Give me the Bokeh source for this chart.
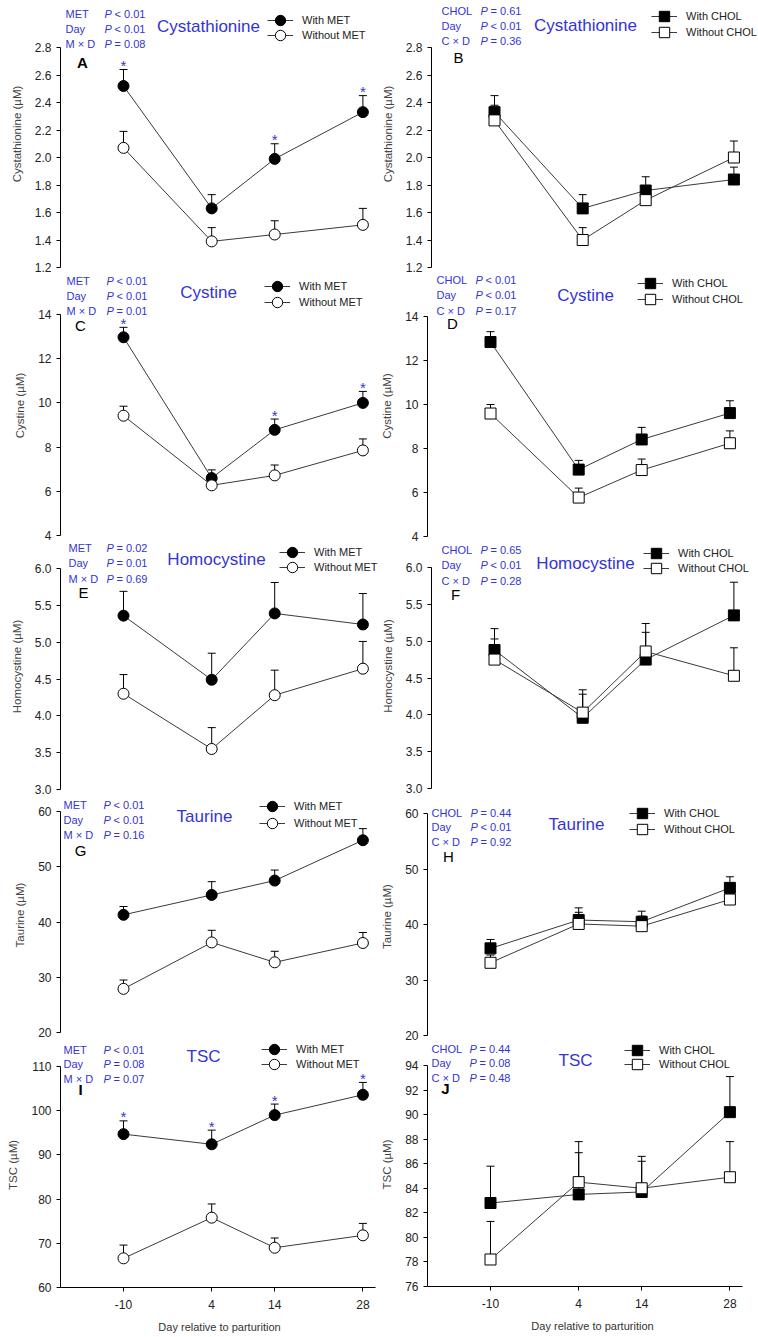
from bokeh.plotting import figure
from bokeh.models import (Range1d, FixedTicker, PrintfTickFormatter, Label,
                          Legend, LegendItem, ColumnDataSource)
from bokeh.layouts import column, row
from bokeh.embed import file_html
from bokeh.resources import INLINE
from bokeh.core.properties import value

FONT = "Liberation Sans"
BLUE = "#3434d6"

# ---------------- data ----------------
days = [-10, 4, 14, 28]
day_tick_labels = ["-10", "4", "14", "28"]

met_names = ["With MET", "Without MET"]
chol_names = ["With CHOL", "Without CHOL"]

# Cystathionine
cysta_met_with = [2.52, 1.63, 1.99, 2.33]
cysta_met_with_se = [0.12, 0.10, 0.11, 0.12]
cysta_met_without = [2.07, 1.39, 1.44, 1.51]
cysta_met_without_se = [0.12, 0.10, 0.10, 0.12]
cysta_met_sig = [True, False, True, True]
cysta_met_p = [("MET", "< 0.01"), ("Day", "< 0.01"), ("M \u00d7 D", "= 0.08")]

cysta_chol_with = [2.33, 1.63, 1.76, 1.84]
cysta_chol_with_se = [0.12, 0.10, 0.10, 0.09]
cysta_chol_without = [2.27, 1.40, 1.69, 2.00]
cysta_chol_without_se = [0.11, 0.09, 0.09, 0.12]
cysta_chol_p = [("CHOL", "= 0.61"), ("Day", "< 0.01"), ("C \u00d7 D", "= 0.36")]

cysta_ticks = [1.2, 1.4, 1.6, 1.8, 2.0, 2.2, 2.4, 2.6, 2.8]

# Cystine
cystine_met_with = [12.97, 6.60, 8.78, 10.0]
cystine_met_with_se = [0.45, 0.37, 0.49, 0.52]
cystine_met_without = [9.42, 6.27, 6.72, 7.85]
cystine_met_without_se = [0.43, 0.20, 0.47, 0.52]
cystine_met_sig = [True, False, True, True]
cystine_met_p = [("MET", "< 0.01"), ("Day", "< 0.01"), ("M \u00d7 D", "= 0.01")]

cystine_chol_with = [12.84, 7.04, 8.41, 9.61]
cystine_chol_with_se = [0.47, 0.42, 0.55, 0.56]
cystine_chol_without = [9.59, 5.77, 7.02, 8.24]
cystine_chol_without_se = [0.41, 0.43, 0.50, 0.56]
cystine_chol_p = [("CHOL", "< 0.01"), ("Day", "< 0.01"), ("C \u00d7 D", "= 0.17")]

cystine_ticks = [4, 6, 8, 10, 12, 14]

# Homocystine
homo_met_with = [5.36, 4.49, 5.39, 5.24]
homo_met_with_se = [0.33, 0.36, 0.42, 0.42]
homo_met_without = [4.30, 3.55, 4.28, 4.64]
homo_met_without_se = [0.26, 0.29, 0.34, 0.37]
homo_met_sig = [False, False, False, False]
homo_met_p = [("MET", "= 0.02"), ("Day", "= 0.01"), ("M \u00d7 D", "= 0.69")]

homo_chol_with = [4.88, 3.96, 4.75, 5.35]
homo_chol_with_se = [0.29, 0.32, 0.37, 0.45]
homo_chol_without = [4.75, 4.03, 4.86, 4.53]
homo_chol_without_se = [0.28, 0.31, 0.38, 0.38]
homo_chol_p = [("CHOL", "= 0.65"), ("Day", "< 0.01"), ("C \u00d7 D", "= 0.28")]

homo_ticks = [3.0, 3.5, 4.0, 4.5, 5.0, 5.5, 6.0]

# Taurine
tau_met_with = [41.3, 44.9, 47.5, 54.8]
tau_met_with_se = [1.5, 2.4, 1.9, 2.1]
tau_met_without = [27.9, 36.3, 32.7, 36.2]
tau_met_without_se = [1.6, 2.2, 2.0, 1.9]
tau_met_sig = [False, False, False, False]
tau_met_p = [("MET", "< 0.01"), ("Day", "< 0.01"), ("M \u00d7 D", "= 0.16")]

tau_chol_with = [35.7, 40.8, 40.5, 46.6]
tau_chol_with_se = [1.6, 2.2, 1.9, 2.0]
tau_chol_without = [33.1, 40.1, 39.7, 44.5]
tau_chol_without_se = [1.4, 2.1, 1.8, 1.5]
tau_chol_p = [("CHOL", "= 0.44"), ("Day", "< 0.01"), ("C \u00d7 D", "= 0.92")]

tau_ticks = [20, 30, 40, 50, 60]

# TSC
tsc_met_with = [94.7, 92.4, 99.0, 103.6]
tsc_met_with_se = [3.0, 3.2, 2.5, 2.8]
tsc_met_without = [66.6, 75.8, 69.0, 71.8]
tsc_met_without_se = [3.0, 3.1, 2.2, 2.7]
tsc_met_sig = [True, True, True, True]
tsc_met_p = [("MET", "< 0.01"), ("Day", "= 0.08"), ("M \u00d7 D", "= 0.07")]
tsc_met_ticks = [60, 70, 80, 90, 100, 110]

tsc_chol_with = [82.8, 83.5, 83.7, 90.2]
tsc_chol_with_se = [3.0, 3.4, 2.5, 2.9]
tsc_chol_without = [78.2, 84.5, 84.0, 84.9]
tsc_chol_without_se = [3.1, 3.3, 2.6, 2.9]
tsc_chol_p = [("CHOL", "= 0.44"), ("Day", "= 0.08"), ("C \u00d7 D", "= 0.48")]
tsc_chol_ticks = [76, 78, 80, 82, 84, 86, 88, 90, 92, 94]

no_sig = [False, False, False, False]

# ---------------- layout constants (page pixels) ----------------
ROW_TOPS = [0, 275, 543, 797, 1042]
LAST_BOTTOM = 1333
FRAME_LEFT = [60, 426]
FRAME_W = [318, 330]
BORDER_L = [60, 48]
BORDER_R = [0, 2]
PPX = 6.3            # pixels per day
X_START = -20
X_AXIS_BOUNDS = (-20, 30)

LAYOUT = {
    "A": dict(col=0, row=0, top_px=47, bot_px=267, tx=(65, 104, 114), ty=13, sp=15, title=(208, 26), letter=(82, 62), lg=(280, 20, 35)),
    "B": dict(col=1, row=0, top_px=47, bot_px=267, tx=(436, 475, 485), ty=10, sp=15, title=(580, 25), letter=(453, 57), lg=(659, 16, 32)),
    "C": dict(col=0, row=1, top_px=314, bot_px=535, tx=(66, 106, 116), ty=280, sp=15, title=(208, 292), letter=(80, 325), lg=(277, 286, 302)),
    "D": dict(col=1, row=1, top_px=316, bot_px=536, tx=(435, 474, 484), ty=279, sp=15.5, title=(584, 295), letter=(451, 323), lg=(649, 283, 299)),
    "E": dict(col=0, row=2, top_px=568, bot_px=789, tx=(68, 106, 116), ty=547, sp=15.5, title=(216, 559), letter=(83, 592), lg=(292, 552, 567)),
    "F": dict(col=1, row=2, top_px=567, bot_px=788, tx=(436, 475, 485), ty=549, sp=15.5, title=(580, 563), letter=(450, 594), lg=(651, 553, 568)),
    "G": dict(col=0, row=3, top_px=811, bot_px=1032, tx=(63, 103, 113), ty=804, sp=15, title=(204, 816), letter=(80, 850), lg=(272, 806, 823)),
    "H": dict(col=1, row=3, top_px=813, bot_px=1035, tx=(430, 469, 479), ty=812, sp=14.5, title=(575, 824), letter=(447, 856), lg=(641, 813, 829)),
    "I": dict(col=0, row=4, top_px=1066, bot_px=1287, tx=(63, 103, 113), ty=1049, sp=14.5, title=(203, 1056), letter=(80, 1089), lg=(274, 1049, 1064)),
    "J": dict(col=1, row=4, top_px=1065, bot_px=1286, tx=(430, 468, 478), ty=1048, sp=14.5, title=(574, 1060), letter=(444, 1088), lg=(636, 1050, 1064)),
}

LEG_GW = 26


def make_panel(key, wy, wse, woy, wose, sig, pvals, yticks, fmt, ylabel,
               title, letter_bold, names, marker):
    lay = LAYOUT[key]
    col = lay["col"]
    r = lay["row"]
    fl = FRAME_LEFT[col]
    fw = FRAME_W[col]
    row_top = ROW_TOPS[r]
    bottom_row = (r == len(ROW_TOPS) - 1)
    lo, hi = yticks[0], yticks[-1]
    ppu = (lay["bot_px"] - lay["top_px"]) / (hi - lo)
    frame_h = lay["bot_px"] - row_top
    y_end = lo + frame_h / ppu
    x_end = X_START + fw / PPX
    next_top = LAST_BOTTOM if bottom_row else ROW_TOPS[r + 1]
    border_b = next_top - lay["bot_px"]

    def dx(px):
        return X_START + (px - fl) / PPX

    def dy(py):
        return lo + (lay["bot_px"] - py) / ppu

    p = figure(frame_width=fw, frame_height=frame_h,
               x_range=Range1d(X_START, x_end), y_range=Range1d(lo, y_end),
               output_backend="svg", toolbar_location=None, title=None,
               x_axis_location="below" if bottom_row else None,
               min_border_left=BORDER_L[col], min_border_right=BORDER_R[col],
               min_border_top=0, min_border_bottom=border_b,
               outline_line_color=None, background_fill_color="white",
               border_fill_color="white")
    p.xgrid.visible = False
    p.ygrid.visible = False

    ya = p.yaxis[0]
    ya.bounds = (lo, hi)
    ya.ticker = FixedTicker(ticks=yticks)
    ya.formatter = PrintfTickFormatter(format=fmt)
    ya.minor_tick_line_color = None
    ya.major_tick_in = 0
    ya.major_tick_out = 4
    ya.major_label_standoff = 5
    ya.major_label_text_font = FONT
    ya.major_label_text_font_size = "12px"
    ya.major_label_text_color = "#222222"
    ya.axis_line_color = "black"
    ya.major_tick_line_color = "black"
    ya.axis_label = ylabel
    ya.axis_label_text_font = FONT
    ya.axis_label_text_font_size = "11.5px"
    ya.axis_label_text_font_style = "normal"
    ya.axis_label_text_color = "#444444"
    ya.axis_label_standoff = 9

    if bottom_row:
        xa = p.xaxis[0]
        xa.bounds = X_AXIS_BOUNDS
        xa.ticker = FixedTicker(ticks=days)
        xa.major_label_overrides = {d: l for d, l in zip(days, day_tick_labels)}
        xa.minor_tick_line_color = None
        xa.major_tick_in = 0
        xa.major_tick_out = 4
        xa.major_label_standoff = 8
        xa.major_label_text_font = FONT
        xa.major_label_text_font_size = "12px"
        xa.major_label_text_color = "#222222"
        xa.axis_label = "Day relative to parturition"
        xa.axis_label_text_font = FONT
        xa.axis_label_text_font_size = "11px"
        xa.axis_label_text_font_style = "normal"
        xa.axis_label_text_color = "#333333"
        xa.axis_label_standoff = 9

    srcs = []
    for y, se in ((wy, wse), (woy, wose)):
        srcs.append(ColumnDataSource(dict(x=days, y=y, top=[a + b for a, b in zip(y, se)])))

    # error bars (mean + SE)
    for s in srcs:
        p.segment("x", "y", "x", "top", source=s, line_color="black", line_width=1)
        p.scatter("x", "top", source=s, marker="dash", size=8, line_color="black", line_width=1)
    lines = [p.line("x", "y", source=s, line_color="#3a3a3a", line_width=1) for s in srcs]
    marks = []
    for s, fill in zip(srcs, ["black", "white"]):
        marks.append(p.scatter("x", "y", source=s, marker=marker, size=11,
                               fill_color=fill, line_color="black", line_width=1))

    # significance stars
    sx = [d for d, f in zip(days, sig) if f]
    st = [t for t, f in zip(srcs[0].data["top"], sig) if f]
    if sx:
        p.text(x="x", y="y", text=value("*"), source=ColumnDataSource(dict(x=sx, y=st)),
               text_font=value(FONT), text_font_size=value("15px"), text_color=BLUE,
               text_align="center", text_baseline="middle", y_offset=-4)

    # p-value texts
    tx0, tx1, tx2 = lay["tx"]
    for i, (fac, rest) in enumerate(pvals):
        yy = dy(lay["ty"] + i * lay["sp"])
        for xx, txt, style in ((tx0, fac, "normal"), (tx1, "P", "italic"), (tx2, rest, "normal")):
            p.add_layout(Label(x=dx(xx), y=yy, text=txt, text_font=FONT,
                               text_font_size="11px", text_font_style=style,
                               text_color=BLUE, text_baseline="middle", text_align="left"))
    # title
    p.add_layout(Label(x=dx(lay["title"][0]), y=dy(lay["title"][1]), text=title,
                       text_font=FONT, text_font_size="17px", text_color=BLUE,
                       text_align="center", text_baseline="middle"))
    # panel letter
    p.add_layout(Label(x=dx(lay["letter"][0]), y=dy(lay["letter"][1]), text=key,
                       text_font=FONT, text_font_size="15px",
                       text_font_style="bold" if letter_bold else "normal",
                       text_color="black", text_align="center", text_baseline="middle"))
    # legends (one per entry)
    mx, ly1, ly2 = lay["lg"]
    for name, lr, mr, ly in zip(names, lines, marks, (ly1, ly2)):
        leg = Legend(items=[LegendItem(label=name, renderers=[lr, mr])],
                     location=(mx - LEG_GW / 2 - fl, lay["bot_px"] - (ly + LEG_GW / 2)),
                     glyph_width=LEG_GW, glyph_height=LEG_GW, label_standoff=9,
                     padding=0, margin=0, spacing=0,
                     label_text_font=FONT, label_text_font_size="11px",
                     label_text_color="#222222", border_line_color=None,
                     background_fill_alpha=0)
        p.add_layout(leg)
    return p


pA = make_panel("A", cysta_met_with, cysta_met_with_se, cysta_met_without, cysta_met_without_se,
                cysta_met_sig, cysta_met_p, cysta_ticks, "%.1f", "Cystathionine (\u00b5M)",
                "Cystathionine", True, met_names, "circle")
pB = make_panel("B", cysta_chol_with, cysta_chol_with_se, cysta_chol_without, cysta_chol_without_se,
                no_sig, cysta_chol_p, cysta_ticks, "%.1f", "Cystathionine (\u00b5M)",
                "Cystathionine", False, chol_names, "square")
pC = make_panel("C", cystine_met_with, cystine_met_with_se, cystine_met_without, cystine_met_without_se,
                cystine_met_sig, cystine_met_p, cystine_ticks, "%d", "Cystine (\u00b5M)",
                "Cystine", False, met_names, "circle")
pD = make_panel("D", cystine_chol_with, cystine_chol_with_se, cystine_chol_without, cystine_chol_without_se,
                no_sig, cystine_chol_p, cystine_ticks, "%d", "Cystine (\u00b5M)",
                "Cystine", False, chol_names, "square")
pE = make_panel("E", homo_met_with, homo_met_with_se, homo_met_without, homo_met_without_se,
                homo_met_sig, homo_met_p, homo_ticks, "%.1f", "Homocystine (\u00b5M)",
                "Homocystine", False, met_names, "circle")
pF = make_panel("F", homo_chol_with, homo_chol_with_se, homo_chol_without, homo_chol_without_se,
                no_sig, homo_chol_p, homo_ticks, "%.1f", "Homocystine (\u00b5M)",
                "Homocystine", False, chol_names, "square")
pG = make_panel("G", tau_met_with, tau_met_with_se, tau_met_without, tau_met_without_se,
                tau_met_sig, tau_met_p, tau_ticks, "%d", "Taurine (\u00b5M)",
                "Taurine", False, met_names, "circle")
pH = make_panel("H", tau_chol_with, tau_chol_with_se, tau_chol_without, tau_chol_without_se,
                no_sig, tau_chol_p, tau_ticks, "%d", "Taurine (\u00b5M)",
                "Taurine", False, chol_names, "square")
pI = make_panel("I", tsc_met_with, tsc_met_with_se, tsc_met_without, tsc_met_without_se,
                tsc_met_sig, tsc_met_p, tsc_met_ticks, "%d", "TSC (\u00b5M)",
                "TSC", True, met_names, "circle")
pJ = make_panel("J", tsc_chol_with, tsc_chol_with_se, tsc_chol_without, tsc_chol_without_se,
                no_sig, tsc_chol_p, tsc_chol_ticks, "%d", "TSC (\u00b5M)",
                "TSC", True, chol_names, "square")

layout = column(row(pA, pB), row(pC, pD), row(pE, pF), row(pG, pH), row(pI, pJ))

with open("out.html", "w") as f:
    f.write(file_html(layout, INLINE))
